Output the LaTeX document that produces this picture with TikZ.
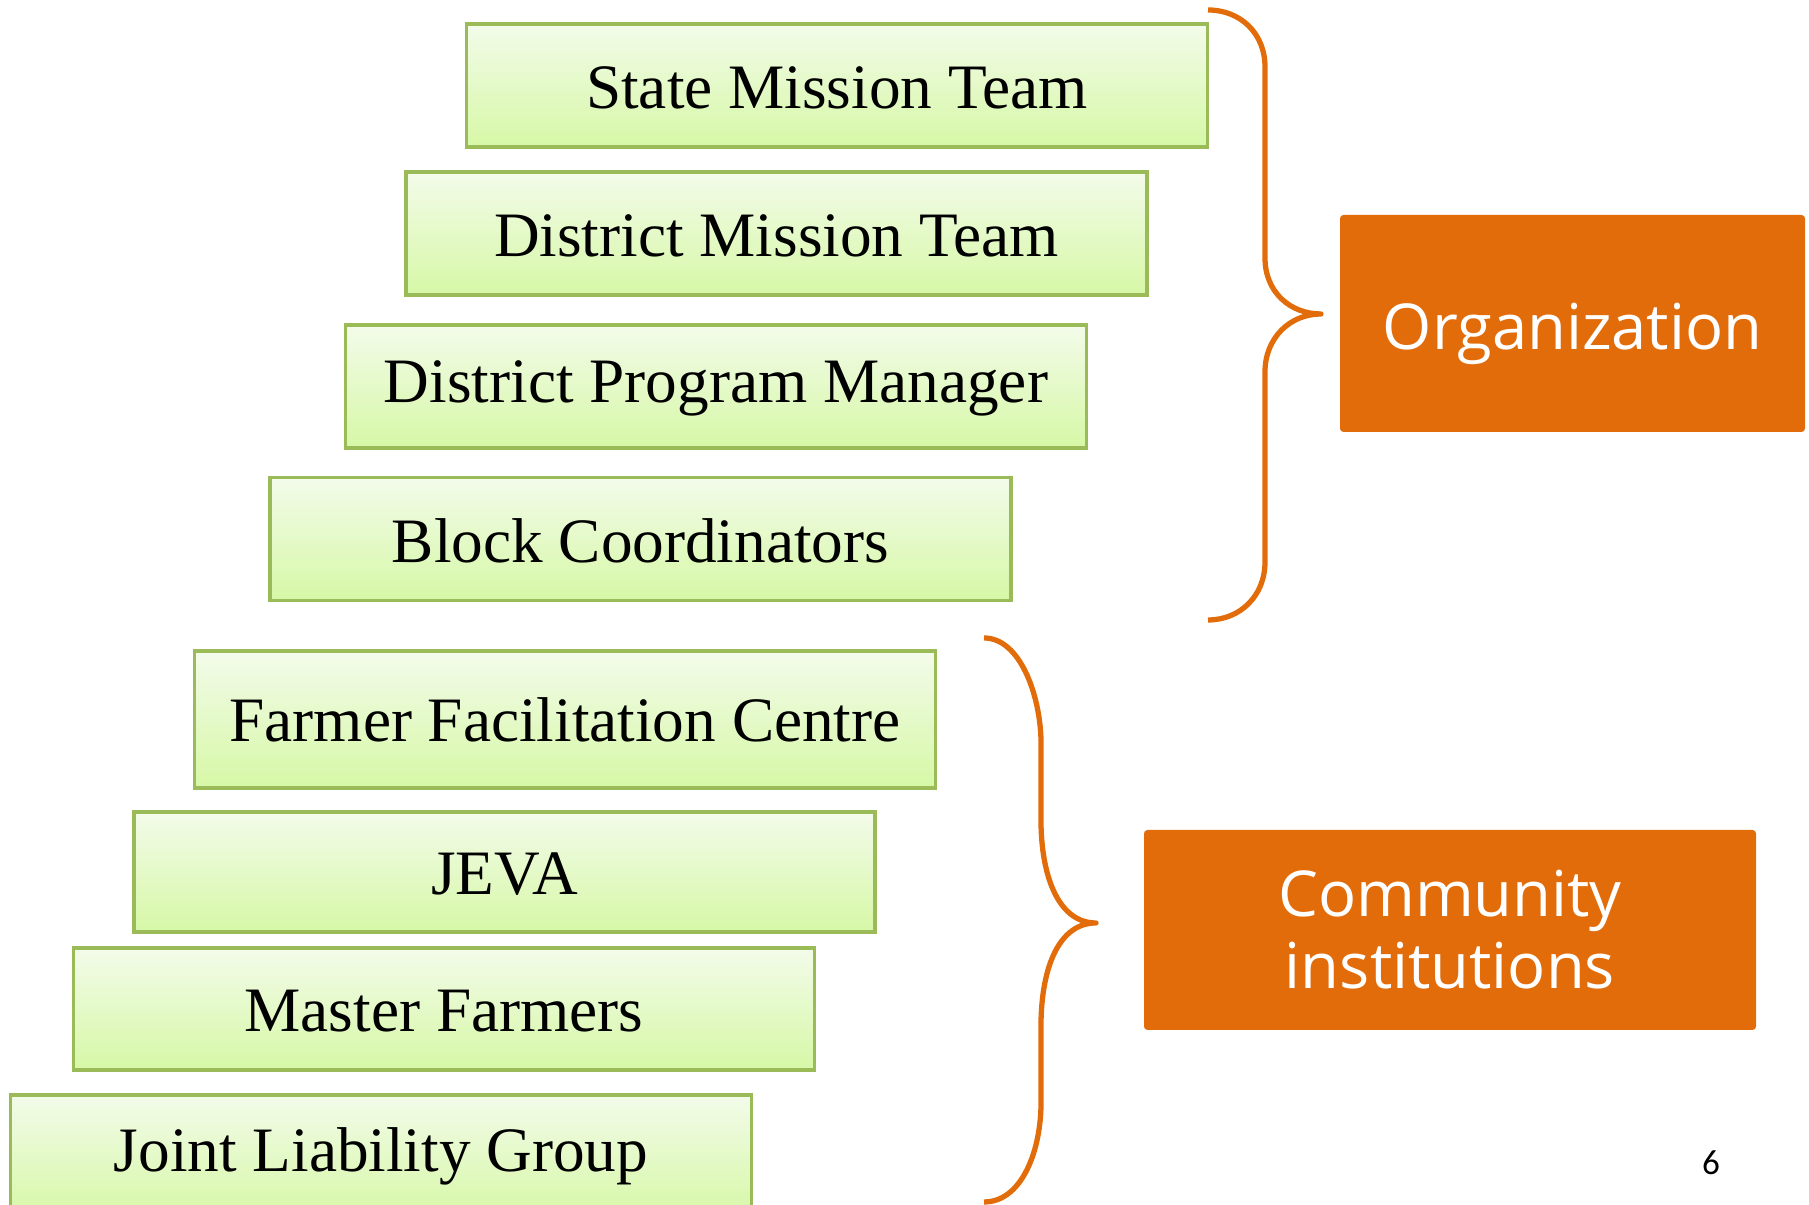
\documentclass[tikz,border=0pt]{standalone}
\usepackage{fontspec}
\setmainfont{Liberation Serif}
\newfontfamily\handfont{Open Sans}
\newfontfamily\numfont{Carlito}
\usetikzlibrary{positioning}

\definecolor{leafline}{HTML}{9BBB59}
\definecolor{leaftop}{HTML}{F3FBEA}
\definecolor{leafbot}{HTML}{D6F8A6}
\definecolor{rust}{HTML}{E36C0A}

\tikzset{
  levelbox/.style={draw=leafline,line width=1pt,top color=leaftop,bottom color=leafbot,
    minimum width=7.41cm,minimum height=1.23cm,inner sep=0pt,
    font=\fontsize{18}{22}\selectfont},
  groupbox/.style={fill=rust,text=white,rounded corners=1pt,inner sep=0pt,align=center,
    font=\handfont\fontsize{18}{20.5}\selectfont},
  bracket/.style={draw=rust,line width=1.5pt,line join=round}
}

\begin{document}
\begin{tikzpicture}[x=1cm,y=1cm]
 \useasboundingbox (0,0) rectangle (18.09,12.05);
 \clip (0,0) rectangle (18.09,12.05);

 % levels
 \node[levelbox] (smt) at (8.37,11.195) {\raisebox{-0.02cm}[\height][\depth]{State Mission Team}};
 \node[levelbox] (dmt) at (7.765,9.715) {\raisebox{-0.02cm}[\height][\depth]{District Mission Team}};
 \node[levelbox] (dpm) at (7.16,8.185) {\raisebox{-0.02cm}[\height][\depth]{District Program Manager}};
 \node[levelbox] (bc) at (6.405,6.66) {\raisebox{-0.02cm}[\height][\depth]{Block Coordinators}};
 \node[levelbox,minimum height=1.37cm] (ffc) at (5.65,4.855) {Farmer Facilitation Centre};
 \node[levelbox,minimum height=1.20cm] (jeva) at (5.045,3.33) {\raisebox{-0.02cm}[\height][\depth]{JEVA}};
 \node[levelbox,minimum height=1.22cm] (mf) at (4.44,1.96) {\raisebox{-0.02cm}[\height][\depth]{Master Farmers}};
 \node[levelbox] (jlg) at (3.81,0.485) {Joint Liability Group};

 % groups
 \node[groupbox,minimum width=4.65cm,minimum height=2.17cm] (org) at (15.725,8.815) {\raisebox{-0.1cm}[\height][\depth]{Organization}};
 \node[groupbox,minimum width=6.12cm,minimum height=2.00cm] (ci) at (14.50,2.75) {Community\\institutions};

 % braces
 \draw[bracket] (12.08,11.95) .. controls (12.40,11.95) and (12.65,11.72) .. (12.65,11.38)
   -- (12.65,9.47) .. controls (12.65,9.13) and (12.90,8.91) .. (13.21,8.91)
   .. controls (12.90,8.91) and (12.65,8.67) .. (12.65,8.33)
   -- (12.65,6.43) .. controls (12.65,6.09) and (12.40,5.85) .. (12.08,5.85);
 \draw[bracket] (9.84,5.67) .. controls (10.20,5.67) and (10.40,5.10) .. (10.41,4.65)
   -- (10.41,3.81) .. controls (10.42,3.25) and (10.60,2.82) .. (10.96,2.82)
   .. controls (10.60,2.82) and (10.42,2.40) .. (10.41,1.83)
   -- (10.41,0.99) .. controls (10.40,0.50) and (10.20,0.03) .. (9.84,0.03);

 \node[font=\numfont\fontsize{10}{12}\selectfont] (pg) at (17.11,0.42) {6};
\end{tikzpicture}
\end{document}
